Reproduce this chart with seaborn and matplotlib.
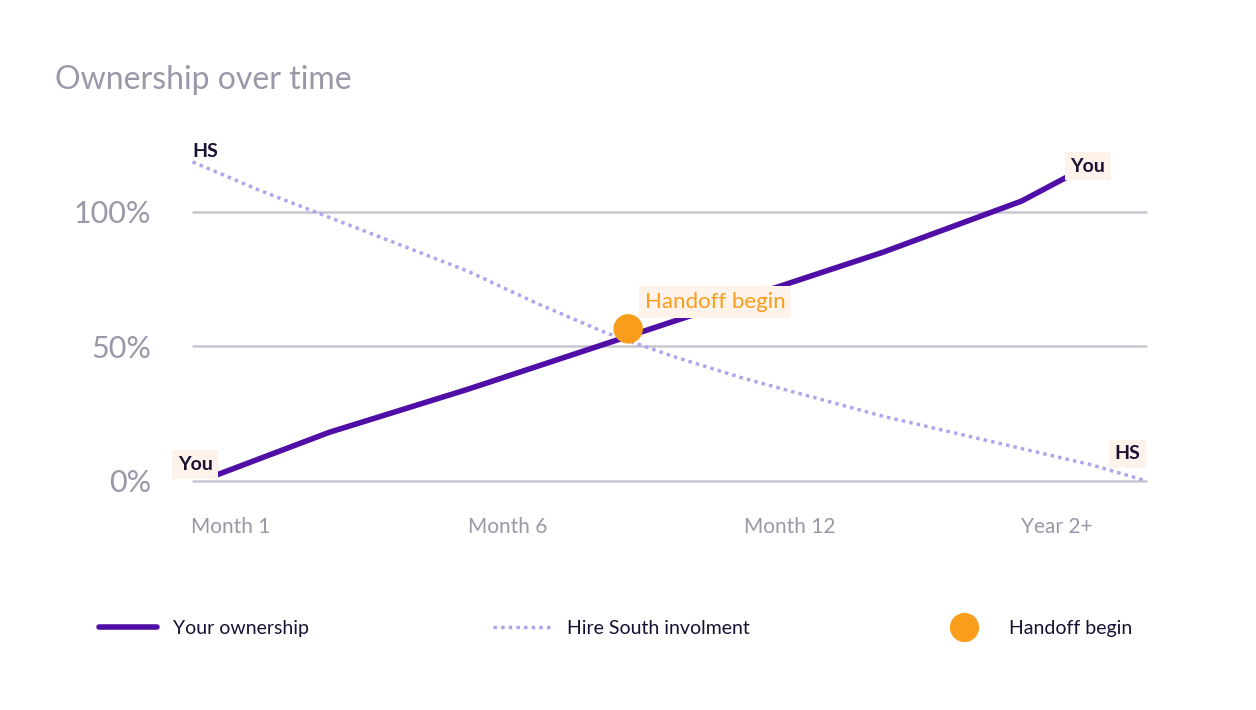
import matplotlib
matplotlib.use("Agg")
import matplotlib.pyplot as plt
from matplotlib.lines import Line2D
import seaborn as sns
import pandas as pd

# data (x: 0=Month 1, 1=Month 6, 2=Month 12, 3=Year 2+)
tick_labels = ["Month 1", "Month 6", "Month 12", "Year 2+"]
you_x = [0.09, 0.5, 1.0, 1.5, 2.0, 2.5, 3.0, 3.22]
you_y = [2, 18, 34, 51, 68, 85, 104, 116]
hs_x = [0.007, 0.25, 0.5, 0.75, 1.0, 1.25, 1.5, 1.75, 2.0, 2.25, 2.5, 2.75, 3.0, 3.25, 3.45]
hs_y = [118.6, 108, 98, 88, 78, 66, 55, 46, 38, 31, 24, 18, 12, 6, 0]
handoff_x = [1.58]
handoff_y = [56.5]

purple = "#4f0ea6"
lilac = "#b0a4ee"
orange = "#f99d1c"
gray = "#9b97a8"
dark = "#1a1033"
peach = "#fdf3ea"

sns.set_theme(style="white")
plt.rcParams["font.family"] = ["Lato", "DejaVu Sans"]

fig = plt.figure(figsize=(12.56, 7.1), dpi=100)
ax = fig.add_axes([0.147, 0.296, 0.776, 0.507])

for v in [0, 50, 100]:
    ax.plot([0.007, 3.45], [v, v], color="#c9c6d2", lw=1.8, zorder=1)

sns.lineplot(data=pd.DataFrame({"x": hs_x, "y": hs_y}), x="x", y="y", ax=ax,
             color=lilac, lw=2.5, linestyle=(0, (1, 1.2)), zorder=2)
sns.lineplot(data=pd.DataFrame({"x": you_x, "y": you_y}), x="x", y="y", ax=ax,
             color=purple, lw=4, zorder=3)
ax.scatter(handoff_x, handoff_y, s=450, color=orange, zorder=5, edgecolor="none")

box = dict(facecolor=peach, edgecolor="none", pad=4)
ax.text(handoff_x[0] + 0.06, handoff_y[0] + 10, "Handoff begin", color=orange,
        fontsize=16, va="center", bbox=box, zorder=4)
ax.text(you_x[0] - 0.01, you_y[0] + 4, "You", color=dark, fontsize=14, fontweight="bold",
        ha="right", va="center", bbox=box, zorder=4)
ax.text(you_x[-1] + 0.02, you_y[-1] + 1, "You", color=dark, fontsize=14, fontweight="bold",
        ha="center", va="center", bbox=box, zorder=4)
ax.text(hs_x[0], hs_y[0] + 4, "HS", color=dark, fontsize=14, fontweight="bold",
        ha="left", va="center", zorder=4)
ax.text(hs_x[-1] - 0.02, hs_y[-1] + 10, "HS", color=dark, fontsize=14, fontweight="bold",
        ha="right", va="center", bbox=box, zorder=4)

ax.set_xlim(-0.0217, 3.498)
ax.set_ylim(-7.1, 126.8)
ax.set_xticks(range(4))
ax.set_xticklabels(tick_labels, ha="left", color=gray, fontsize=15)
ax.set_yticks([0, 50, 100])
ax.set_yticklabels(["0%", "50%", "100%"], color=gray, fontsize=22)
ax.tick_params(axis="x", pad=12, length=0)
ax.tick_params(axis="y", pad=24, length=0)
ax.set_xlabel("")
ax.set_ylabel("")
sns.despine(ax=ax, left=True, bottom=True)

fig.text(0.044, 0.887, "Ownership over time", color=gray, fontsize=23, va="center")

handles = [
    Line2D([], [], color=purple, lw=4),
    Line2D([], [], color=lilac, lw=2.5, linestyle=(0, (1, 1.2))),
    Line2D([], [], color=orange, marker="o", markersize=20, lw=0),
]
fig.legend(handles, ["Your ownership", "Hire South involment", "Handoff begin"],
           loc="center", bbox_to_anchor=(0.49, 0.115), ncol=3, frameon=False,
           columnspacing=9.5, handlelength=3, handletextpad=0.8, fontsize=14,
           labelcolor=dark)

fig.savefig("out.png", dpi=100, facecolor="white")
